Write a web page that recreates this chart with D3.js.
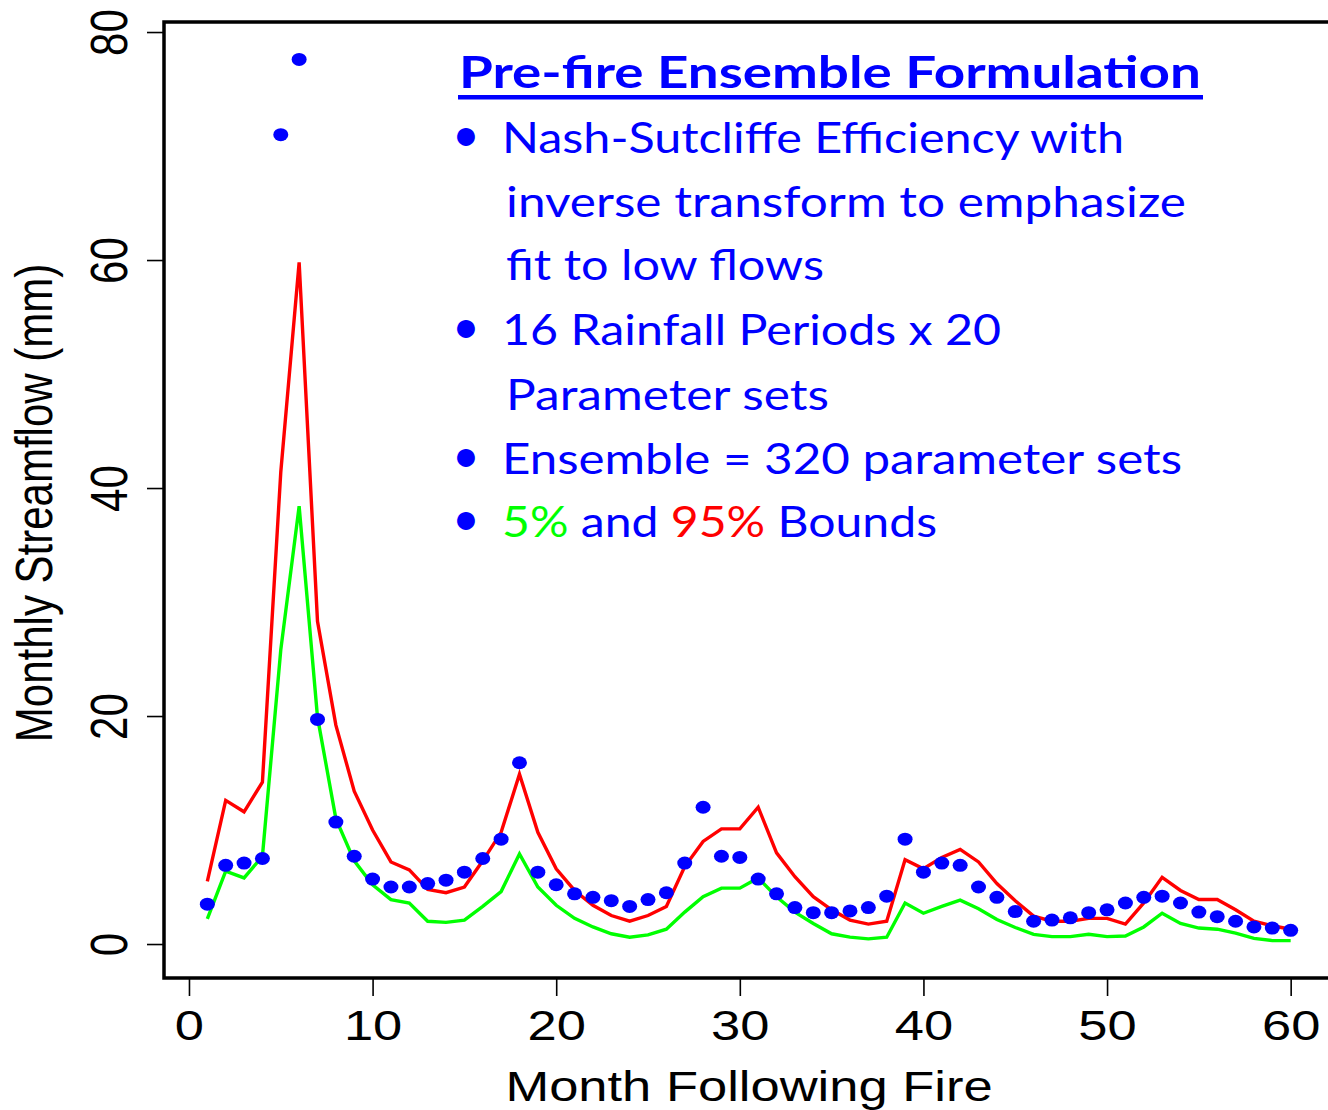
<!DOCTYPE html>
<html>
<head>
<meta charset="utf-8">
<script src="https://cdn.jsdelivr.net/npm/d3@7"></script>
<style>
  html, body { margin: 0; padding: 0; background: #ffffff; }
  svg { display: block; }
</style>
</head>
<body>
<svg id="chart" width="1328" height="1110"></svg>
<script>
// Month index after the fire
const months = [1, 2, 3, 4, 5, 6, 7, 8, 9, 10, 11, 12, 13, 14, 15, 16, 17, 18, 19, 20,
  21, 22, 23, 24, 25, 26, 27, 28, 29, 30, 31, 32, 33, 34, 35, 36, 37, 38, 39, 40,
  41, 42, 43, 44, 45, 46, 47, 48, 49, 50, 51, 52, 53, 54, 55, 56, 57, 58, 59, 60];

// Observed monthly streamflow (mm)
const observed = [3.5, 6.9, 7.1, 7.5, 71.0, 77.6, 19.7, 10.7, 7.7, 5.7,
  5.0, 5.0, 5.3, 5.6, 6.3, 7.5, 9.2, 15.9, 6.3, 5.2,
  4.4, 4.1, 3.8, 3.3, 3.9, 4.5, 7.1, 12.0, 7.7, 7.6,
  5.7, 4.4, 3.2, 2.75, 2.75, 2.9, 3.2, 4.2, 9.2, 6.3,
  7.1, 6.9, 5.0, 4.1, 2.85, 2.0, 2.1, 2.3, 2.75, 3.0,
  3.6, 4.1, 4.2, 3.6, 2.8, 2.4, 2.0, 1.5, 1.4, 1.2];

// Ensemble 95% bound (mm)
const upper95 = [5.5, 12.6, 11.6, 14.2, 41.4, 59.8, 28.3, 19.2, 13.4, 10.0,
  7.2, 6.5, 4.8, 4.5, 5.0, 7.3, 9.8, 14.9, 9.8, 6.6,
  4.7, 3.4, 2.5, 2.0, 2.5, 3.3, 6.8, 9.0, 10.1, 10.1,
  12.0, 8.0, 5.9, 4.15, 3.0, 2.1, 1.75, 2.0, 7.4, 6.6,
  7.6, 8.3, 7.2, 5.3, 3.8, 2.45, 2.0, 2.0, 2.25, 2.25,
  1.75, 3.6, 5.85, 4.7, 3.9, 3.9, 3.0, 2.0, 1.6, 1.3];

// Ensemble 5% bound (mm)
const lower05 = [2.2, 6.4, 5.8, 7.7, 25.8, 38.4, 19.9, 11.0, 7.3, 5.2,
  3.9, 3.6, 2.0, 1.9, 2.1, 3.3, 4.6, 7.9, 5.0, 3.4,
  2.25, 1.5, 0.9, 0.6, 0.8, 1.3, 2.8, 4.15, 4.9, 4.9,
  5.8, 4.15, 2.8, 1.8, 0.9, 0.6, 0.45, 0.6, 3.6, 2.7,
  3.3, 3.85, 3.1, 2.15, 1.45, 0.85, 0.65, 0.65, 0.85, 0.65,
  0.7, 1.5, 2.7, 1.8, 1.4, 1.3, 0.95, 0.5, 0.3, 0.3];

const xTicks = [0, 10, 20, 30, 40, 50, 60];
const yTicks = [0, 20, 40, 60, 80];

const xTitle = "Month Following Fire";
const yTitle = "Monthly Streamflow (mm)";

const noteHeading = "Pre-fire Ensemble Formulation";
// Each note line: bullet flag, pieces of [text, colour]
const noteLines = [
  { bullet: true,  parts: [["Nash-Sutcliffe Efficiency with", "blue"]] },
  { bullet: false, parts: [["inverse transform to emphasize", "blue"]] },
  { bullet: false, parts: [["fit to low flows", "blue"]] },
  { bullet: true,  parts: [["16 Rainfall Periods x 20", "blue"]] },
  { bullet: false, parts: [["Parameter sets", "blue"]] },
  { bullet: true,  parts: [["Ensemble = 320 parameter sets", "blue"]] },
  { bullet: true,  parts: [["5%", "lime"], [" and ", "blue"], ["95%", "red"], [" Bounds", "blue"]] }
];

// ---- layout ----
const colours = { blue: "#0000ff", red: "#ff0000", lime: "#00ff00" };
const frame = { left: 164, top: 22, right: 1334, bottom: 978 };
const axisFont = "'Liberation Sans', Arial, Helvetica, sans-serif";
const noteFont = "Lato, 'Open Sans', sans-serif";
const stretch = 1.25; // horizontal stretch of the plot's lettering

const svg = d3.select("#chart");
svg.append("rect").attr("width", 1328).attr("height", 1110).attr("fill", "#fff");

const x = d3.scaleLinear().domain([-1.36, 62.36]).range([frame.left, frame.right]);
const y = d3.scaleLinear().domain([-2.98, 80.88]).range([frame.bottom, frame.top]);

// bounds
const line = d3.line().x((d, i) => x(months[i])).y(d => y(d));
svg.append("path").datum(lower05)
  .attr("d", line).attr("fill", "none")
  .attr("stroke", colours.lime).attr("stroke-width", 3.4).attr("stroke-linejoin", "miter");
svg.append("path").datum(upper95)
  .attr("d", line).attr("fill", "none")
  .attr("stroke", colours.red).attr("stroke-width", 3.4).attr("stroke-linejoin", "miter");

// observed points
svg.append("g").selectAll("ellipse").data(observed).join("ellipse")
  .attr("cx", (d, i) => x(months[i]))
  .attr("cy", d => y(d))
  .attr("rx", 7.5).attr("ry", 6.5)
  .attr("fill", colours.blue);

// frame
svg.append("rect")
  .attr("x", frame.left).attr("y", frame.top)
  .attr("width", frame.right - frame.left).attr("height", frame.bottom - frame.top)
  .attr("fill", "none").attr("stroke", "#000").attr("stroke-width", 3.5);

// x axis
const gx = svg.append("g")
  .attr("transform", `translate(0,${frame.bottom})`)
  .call(d3.axisBottom(x).tickValues(xTicks).tickSize(18).tickFormat(d3.format("d")));
gx.select(".domain").remove();
gx.attr("font-family", axisFont).attr("font-size", 42);
gx.selectAll(".tick line").attr("stroke", "#000").attr("stroke-width", 1.6);
gx.selectAll(".tick text")
  .attr("y", null).attr("dy", null)
  .attr("fill", "#000")
  .attr("text-anchor", "middle")
  .attr("transform", `translate(0,62) scale(${stretch},1)`);

// y axis
const gy = svg.append("g")
  .attr("transform", `translate(${frame.left},0)`)
  .call(d3.axisLeft(y).tickValues(yTicks).tickSize(17).tickFormat(d3.format("d")));
gy.select(".domain").remove();
gy.attr("font-family", axisFont).attr("font-size", 42);
gy.selectAll(".tick line").attr("stroke", "#000").attr("stroke-width", 1.6);
gy.selectAll(".tick text")
  .attr("x", null).attr("dy", null)
  .attr("fill", "#000")
  .attr("text-anchor", "middle")
  .attr("transform", `translate(-37,0) scale(${stretch},1) rotate(-90)`);

// axis titles
svg.append("text")
  .attr("transform", `translate(${(x(-1.36) + x(62.36)) / 2},1101) scale(${stretch},1)`)
  .attr("text-anchor", "middle")
  .attr("font-family", axisFont).attr("font-size", 42).attr("fill", "#000")
  .text(xTitle);
svg.append("text")
  .attr("transform", `translate(52,${(y(-2.98) + y(80.88)) / 2 + 3}) scale(${stretch},1) rotate(-90)`)
  .attr("text-anchor", "middle")
  .attr("font-family", axisFont).attr("font-size", 42).attr("fill", "#000")
  .text(yTitle);

// ---- note block ----
const note = svg.append("g").attr("font-family", noteFont);
const headX = 459, headBase = 88, headLen = 742;
note.append("text")
  .attr("x", headX).attr("y", headBase)
  .attr("font-size", 44).attr("font-weight", 700)
  .attr("fill", colours.blue)
  .attr("textLength", headLen).attr("lengthAdjust", "spacingAndGlyphs")
  .text(noteHeading);
note.append("rect")
  .attr("x", headX - 1).attr("y", 95)
  .attr("width", headLen + 3).attr("height", 4.5)
  .attr("fill", colours.blue);

const lineBases = [153, 216.5, 280, 345, 410, 473.5, 537];
const lineStarts = [502, 506, 506, 502, 506, 502, 502];
const lineLengths = [622, 680, 318, 499, 323, 680, 435];

noteLines.forEach((ln, i) => {
  if (ln.bullet) {
    note.append("text")
      .attr("x", 466).attr("y", lineBases[i] - 2)
      .attr("text-anchor", "middle")
      .attr("font-size", 48).attr("fill", colours.blue)
      .text("\u2022");
  }
  const t = note.append("text")
    .attr("x", lineStarts[i]).attr("y", lineBases[i])
    .attr("font-size", 42)
    .attr("textLength", lineLengths[i]).attr("lengthAdjust", "spacingAndGlyphs")
    .attr("xml:space", "preserve")
    .style("white-space", "pre");
  ln.parts.forEach(([txt, c]) => {
    t.append("tspan").attr("fill", colours[c]).text(txt);
  });
});
</script>
</body>
</html>
